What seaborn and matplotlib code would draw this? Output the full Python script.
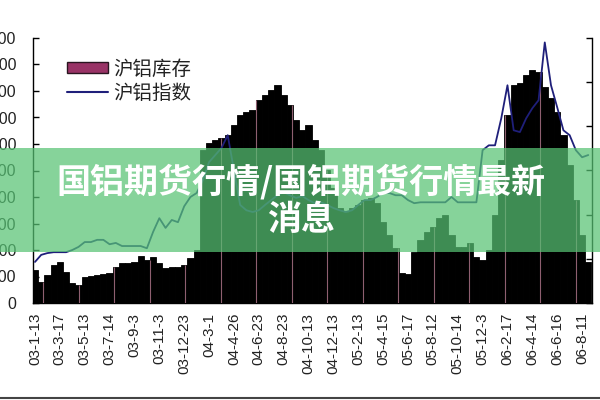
import matplotlib
matplotlib.use("Agg")
import matplotlib.pyplot as plt
from matplotlib.lines import Line2D
from matplotlib.patches import Patch, Rectangle
import numpy as np
import pandas as pd
import seaborn as sns

# tick labels on the category axis (one every 4 weeks)
date_labels = [
    "03-1-13", "03-3-17", "03-5-13", "03-7-14", "03-9-3", "03-11-3",
    "03-12-23", "04-3-1", "04-4-26", "04-6-23", "04-8-23", "04-10-13",
    "04-12-13", "05-2-13", "05-4-15", "05-6-17", "05-8-12", "05-10-14",
    "05-12-3", "06-2-17", "06-4-14", "06-6-16", "06-8-11",
]

# 沪铝库存 (left axis)
stock = [
    1250, 790, 1060, 1430, 1550, 1170, 750, 680, 980, 1020,
    1060, 1090, 1130, 1360, 1510, 1510, 1550, 1770, 1620, 1740,
    1510, 1320, 1360, 1360, 1430, 1700, 2000, 5770, 6040, 6150,
    6230, 6340, 6720, 7100, 7210, 7280, 7660, 7850, 8040, 8230,
    7850, 7470, 6910, 6530, 6720, 6150, 5770, 5020, 4340, 3590,
    3430, 3590, 3700, 3890, 3960, 3770, 3060, 2570, 2080, 1130,
    1090, 1920, 2380, 2680, 2870, 3210, 3320, 2570, 2110, 2110,
    2260, 1740, 1620, 2000, 3320, 5400, 7100, 8230, 8300, 8600,
    8790, 8720, 8150, 7740, 7210, 6340, 5210, 3890, 2570, 1550,
]

# 沪铝指数 (right axis)
index_price = [
    14930, 15090, 15130, 15150, 15150, 15150, 15200, 15270, 15380, 15380,
    15430, 15430, 15330, 15360, 15290, 15290, 15290, 15290, 15240, 15610,
    15920, 15700, 15880, 15830, 16190, 16400, 16490, 16780, 17190, 17350,
    17510, 17800, 17010, 16220, 16100, 16060, 16100, 16220, 16330, 16440,
    16510, 16440, 16380, 16420, 16330, 16260, 16280, 16220, 16150, 16100,
    16060, 16100, 16220, 16330, 16330, 16400, 16490, 16490, 16440, 16440,
    16330, 16260, 16280, 16280, 16280, 16280, 16280, 16400, 16280, 16280,
    16280, 16280, 17460, 17570, 17570, 18180, 18930, 17910, 17870, 18180,
    18410, 18590, 19900, 18930, 18430, 17910, 17800, 17460, 17300, 17350,
]

df = pd.DataFrame({
    "week": np.arange(len(stock)),
    "stock": stock,
    "index": index_price,
})

sns.set_theme(style="white")
plt.rcParams["font.family"] = ["Liberation Sans", "Noto Sans CJK SC", "DejaVu Sans"]

fig = plt.figure(figsize=(6, 4), dpi=100)
ax = fig.add_axes([0.055, 0.2425, 0.9317, 0.6625])
ax2 = ax.twinx()

sns.barplot(
    data=df, x="week", y="stock", ax=ax, native_scale=True, width=1.0,
    color="black", edgecolor="black", linewidth=0.6, saturation=1,
)

# thin mauve separators showing through the stock columns
grid_pos = 1.3 + 5.71 * np.arange(16)
grid_h = df["stock"].to_numpy()[np.round(grid_pos).astype(int)]
ax.vlines(grid_pos, 0, grid_h, colors="#8e5f70", linewidth=0.8, zorder=3)

sns.lineplot(data=df, x="week", y="index", ax=ax2, color="#1f1f7a", linewidth=1.3)

ax.set_xlim(-0.32, 89.6)
ax.set_ylim(0, 10000)
ax.set_yticks(range(0, 10001, 1000))
ax.set_xticks(range(0, 89, 4))
ax.set_xticklabels(date_labels, rotation=90, fontsize=11, color="#222222")
ax.tick_params(axis="y", direction="in", length=4, width=1, left=True,
               labelsize=11.5, pad=12, labelcolor="#222222", color="black")
ax.tick_params(axis="x", length=0, pad=7)
ax.set_xlabel("")
ax.set_ylabel("")

ax2.set_ylim(14000, 20000)
ax2.set_yticks(range(14000, 20001, 1000))
ax2.tick_params(axis="y", direction="in", length=4, width=1, right=True,
                labelright=False, color="black")
ax2.set_ylabel("")

for a in (ax, ax2):
    a.spines["top"].set_visible(False)
    for s in a.spines.values():
        s.set_color("black")
        s.set_linewidth(1)
ax.spines["right"].set_visible(False)
ax2.spines["left"].set_visible(False)
ax2.spines["bottom"].set_visible(False)

handles = [
    Patch(facecolor="#993366", edgecolor="#2a1520", linewidth=1),
    Line2D([], [], color="#1f1f7a", linewidth=1.5),
]
ax.legend(
    handles, ["沪铝库存", "沪铝指数"], loc="upper left",
    bbox_to_anchor=(0.047, 0.947), frameon=False, fontsize=14,
    handlelength=2.1, handleheight=0.55, labelspacing=0.3,
    handletextpad=0.25, borderaxespad=0, labelcolor="#222222",
)

# green title banner laid over the chart
fig.add_artist(Rectangle(
    (0, 0.37), 1, 0.26, transform=fig.transFigure,
    facecolor=(87 / 255, 195 / 255, 116 / 255), alpha=0.72,
    edgecolor="none", zorder=10,
))
title_font = ["Noto Sans CJK SC", "DejaVu Sans"]
fig.text(0.502, 0.545, "国铝期货行情/国铝期货行情最新", ha="center", va="center",
         color="white", fontsize=24.5, fontweight="bold", family=title_font, zorder=11)
fig.text(0.502, 0.452, "消息", ha="center", va="center",
         color="white", fontsize=24.5, fontweight="bold", family=title_font, zorder=11)

fig.add_artist(Line2D([0, 1], [0.006, 0.006], transform=fig.transFigure,
                      color="#444444", linewidth=1.5))

fig.savefig("out.png", dpi=100)
plt.close(fig)
